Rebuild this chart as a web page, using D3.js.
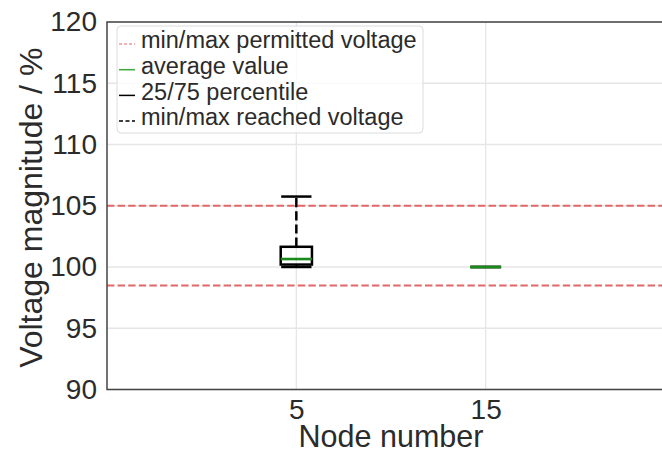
<!DOCTYPE html>
<html>
<head>
<meta charset="utf-8">
<script src="https://cdn.jsdelivr.net/npm/d3@7/dist/d3.min.js"></script>
<style>
  html, body { margin: 0; padding: 0; background: #fff; }
  svg { display: block; font-family: "Liberation Sans", Arial, sans-serif; }
</style>
</head>
<body>
<svg id="chart" width="662" height="454"></svg>
<script>
// Node labels along the x axis
const nodes = ["5", "15"];
// Voltage statistics per node, in % of nominal
const minReached = [100.0, 100.0];
const q25 = [100.2, 100.0];
const average = [100.65, 100.0];
const q75 = [101.65, 100.0];
const maxReached = [105.75, 100.0];
// Permitted voltage band
const permittedMin = 98.5;
const permittedMax = 105;
// Axis ticks
const yTicks = [90, 95, 100, 105, 110, 115, 120];
const legendLabels = [
  "min/max permitted voltage",
  "average value",
  "25/75 percentile",
  "min/max reached voltage"
];

const svg = d3.select("#chart");
const plot = { left: 107, top: 22, right: 675, bottom: 389.5 };

const x = d3.scaleLinear().domain([-1, 2]).range([plot.left, plot.right]);
const y = d3.scaleLinear().domain([90, 120]).range([plot.bottom, plot.top]);
const pxPerUnit = x(1) - x(0);
const boxW = 0.165 * pxPerUnit;
const capW = 0.08 * pxPerUnit;

const red = "#e06868";
const green = "#1a8a1a";
const gridColor = "#e6e6e6";
const textColor = "#2b2b2b";

// grid
const grid = svg.append("g");
grid.selectAll("line.h").data(yTicks).join("line")
  .attr("x1", plot.left).attr("x2", plot.right)
  .attr("y1", d => y(d)).attr("y2", d => y(d))
  .attr("stroke", gridColor).attr("stroke-width", 1.3);
grid.selectAll("line.v").data(nodes).join("line")
  .attr("x1", (d, i) => x(i)).attr("x2", (d, i) => x(i))
  .attr("y1", plot.top).attr("y2", plot.bottom)
  .attr("stroke", gridColor).attr("stroke-width", 1.3);

// permitted band limits
svg.append("g").selectAll("line").data([permittedMax, permittedMin]).join("line")
  .attr("x1", plot.left).attr("x2", plot.right)
  .attr("y1", d => y(d)).attr("y2", d => y(d))
  .attr("stroke", red).attr("stroke-width", 2)
  .attr("stroke-dasharray", "7.4,3.2");

// box plots
const boxes = svg.append("g");
nodes.forEach((n, i) => {
  const cx = x(i);
  const g = boxes.append("g");
  // whiskers
  g.append("line").attr("x1", cx).attr("x2", cx)
    .attr("y1", y(q75[i])).attr("y2", y(maxReached[i]))
    .attr("stroke", "#000").attr("stroke-width", 2.5).attr("stroke-dasharray", "9.2,4");
  g.append("line").attr("x1", cx).attr("x2", cx)
    .attr("y1", y(q25[i])).attr("y2", y(minReached[i]))
    .attr("stroke", "#000").attr("stroke-width", 2.5).attr("stroke-dasharray", "9.2,4");
  // caps
  [minReached[i], maxReached[i]].forEach(v => {
    g.append("line").attr("x1", cx - capW).attr("x2", cx + capW)
      .attr("y1", y(v)).attr("y2", y(v))
      .attr("stroke", "#000").attr("stroke-width", 2.5);
  });
  // box
  g.append("rect")
    .attr("x", cx - boxW / 2).attr("width", boxW)
    .attr("y", y(q75[i])).attr("height", Math.max(0, y(q25[i]) - y(q75[i])))
    .attr("fill", "none").attr("stroke", "#000").attr("stroke-width", 2.5);
  // average
  g.append("line").attr("x1", cx - boxW / 2).attr("x2", cx + boxW / 2)
    .attr("y1", y(average[i])).attr("y2", y(average[i]))
    .attr("stroke", green).attr("stroke-width", 2.6);
});

// axes frame
svg.append("path")
  .attr("d", `M${plot.right},${plot.top}H${plot.left}V${plot.bottom}H${plot.right}`)
  .attr("fill", "none").attr("stroke", "#444").attr("stroke-width", 1.5);

// y axis labels
const yAxis = d3.axisLeft(y).tickValues(yTicks).tickSize(0).tickPadding(10);
const gy = svg.append("g").attr("transform", `translate(${plot.left},0)`).call(yAxis);
gy.select(".domain").remove();
gy.selectAll("text").attr("font-size", 28).attr("fill", textColor)
  .attr("font-family", "Liberation Sans, Arial, sans-serif");

// x axis labels
const xAxis = d3.axisBottom(x).tickValues(nodes.map((d, i) => i))
  .tickFormat(i => nodes[i]).tickSize(0).tickPadding(10);
const gx = svg.append("g").attr("transform", `translate(0,${plot.bottom})`).call(xAxis);
gx.select(".domain").remove();
gx.selectAll("text").attr("font-size", 28).attr("fill", textColor)
  .attr("font-family", "Liberation Sans, Arial, sans-serif");

// axis titles
svg.append("text")
  .attr("x", 391).attr("y", 447)
  .attr("text-anchor", "middle").attr("font-size", 30.5).attr("fill", textColor)
  .text("Node number");
svg.append("text")
  .attr("transform", `translate(42,${(plot.top + plot.bottom) / 2 + 2}) rotate(-90)`)
  .attr("text-anchor", "middle").attr("font-size", 32).attr("fill", textColor)
  .text("Voltage magnitude / %");

// legend
const lg = svg.append("g").attr("transform", "translate(117,26)");
lg.append("rect").attr("width", 306).attr("height", 107).attr("rx", 4)
  .attr("fill", "#fff").attr("fill-opacity", 0.8)
  .attr("stroke", "#dcdcdc").attr("stroke-width", 1);
const handles = [
  { color: red, dash: "3,2", w: 1.2 },
  { color: "#3aa83a", dash: null, w: 1.5 },
  { color: "#000", dash: null, w: 1.5 },
  { color: "#000", dash: "4,2.5", w: 1.5 }
];
legendLabels.forEach((lab, i) => {
  const cy = 14 + i * 25.7;
  const h = handles[i];
  const ln = lg.append("line").attr("x1", 2).attr("x2", 18)
    .attr("y1", cy + 4).attr("y2", cy + 4)
    .attr("stroke", h.color).attr("stroke-width", h.w);
  if (h.dash) ln.attr("stroke-dasharray", h.dash);
  lg.append("text").attr("x", 24).attr("y", cy).attr("dy", "0.35em")
    .attr("font-size", 23.5).attr("fill", textColor).text(lab);
});
</script>
</body>
</html>
